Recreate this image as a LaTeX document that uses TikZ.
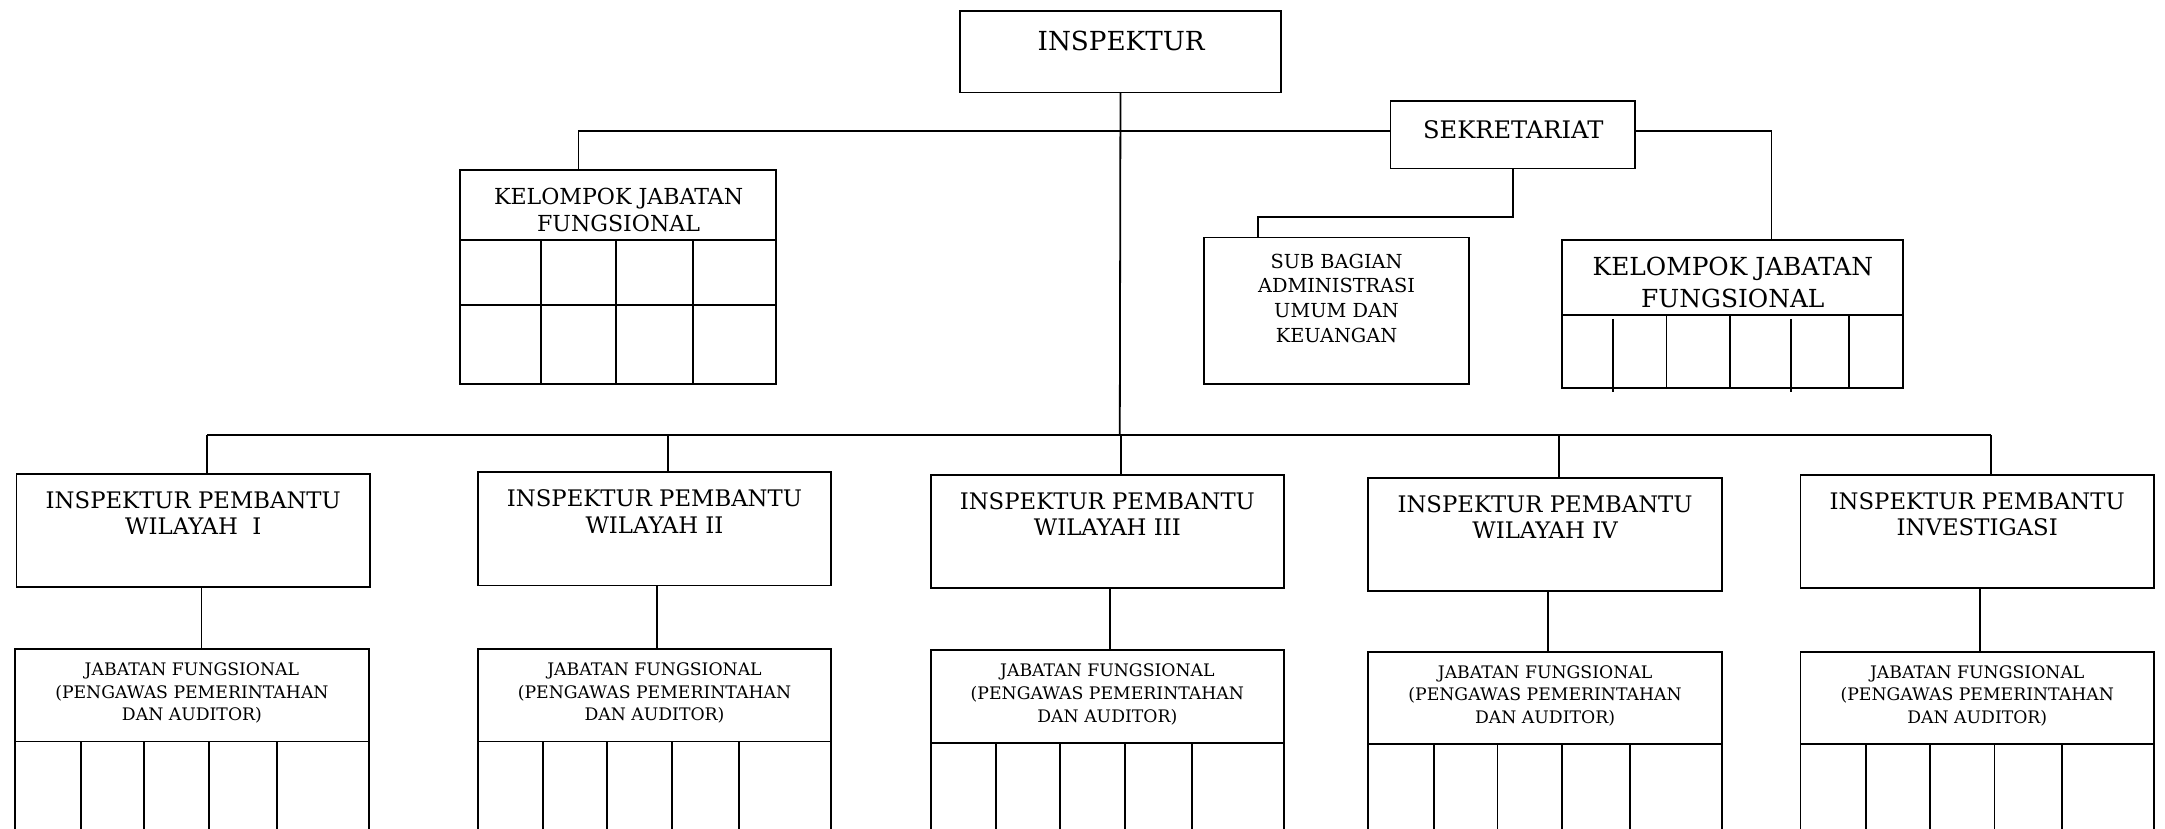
\documentclass[tikz,border=0pt]{standalone}
\usepackage{fontspec}
\setmainfont{DejaVu Serif}
\begin{document}
\begin{tikzpicture}[x=1pt,y=-1pt,line width=1.3pt,
  box/.style={draw,inner sep=0pt,outer sep=0pt,anchor=north west},
  lbl/.style={align=center,inner sep=0pt},
  fbig/.style={font=\fontsize{19}{23}\selectfont},
  fip/.style={font=\fontsize{16.5}{19}\selectfont},
  fkjf/.style={font=\fontsize{16}{19}\selectfont},
  fkjfr/.style={font=\fontsize{18}{23}\selectfont},
  fsub/.style={font=\fontsize{14}{18}\selectfont},
  fjf/.style={font=\fontsize{12.5}{16.5}\selectfont}]
\useasboundingbox (0,0) rectangle (1568,600);
\begin{scope}
\clip (0,0) rectangle (1568,600);

% top
\node[box,minimum width=233pt,minimum height=59pt] (insp) at (695,8) {};
\node[lbl,fbig] (tinsp) at (812,30) {INSPEKTUR};
\node[box,minimum width=177pt,minimum height=49pt] (sek) at (1007,73) {};
\node[lbl,fbig,font=\fontsize{17.5}{21}\selectfont] (tsek) at (1096,94) {SEKRETARIAT};

% kelompok jabatan fungsional left
\node[box,minimum width=229pt,minimum height=155pt] (kjfL) at (333,123) {};
\node[lbl,fkjf] (tkjfL) at (448,152) {KELOMPOK JABATAN\\FUNGSIONAL};
\draw (333,174) -- (562,174);
\draw (333,221) -- (562,221);
\foreach \c in {392,446,502} \draw (\c,174) -- (\c,278);

% sub bagian
\node[box,minimum width=192pt,minimum height=106pt] (sub) at (872,172) {};
\node[lbl,fsub] (tsub) at (968,216) {SUB BAGIAN\\ADMINISTRASI\\UMUM DAN\\KEUANGAN};

% kelompok jabatan fungsional right
\node[box,minimum width=247pt,minimum height=107pt] (kjfR) at (1131,174) {};
\node[lbl,fkjfr] (tkjfR) at (1255,204.5) {KELOMPOK JABATAN\\FUNGSIONAL};
\draw (1131,228) -- (1378,228);
\foreach \c in {1207,1253,1339} \draw (\c,228) -- (\c,281);
\foreach \c in {1168,1297} \draw (\c,231) -- (\c,284);

% connectors top
\coordinate (bus) at (811,315);
\draw (insp.south) -- (bus);
\draw ([xshift=-28.5pt]kjfL.north) |- ([yshift=2.5pt]sek.west);
\draw ([yshift=2.5pt]sek.east) -| ([xshift=28.5pt]kjfR.north);
\draw (sek.south) -- ++(0,35) -| ([xshift=-57pt]sub.north);

% inspektur pembantu
\foreach \n/\x/\y/\t in {1/12/343/{WILAYAH\ \ I},2/346/342/{WILAYAH II},3/674/344/{WILAYAH III},4/991/346/{WILAYAH IV},5/1304/344/{INVESTIGASI}}{
  \node[box,minimum width=256pt,minimum height=82pt] (ip\n) at (\x,\y) {};
  \node[lbl,fip] (tip\n) at ([yshift=-28.5pt]ip\n.north) {INSPEKTUR PEMBANTU\\\t};
  \coordinate (d\n) at ([xshift=10pt]ip\n.north);
  \draw (d\n) -- (d\n |- bus);
}
\draw (d1 |- bus) -- (d5 |- bus);

% jabatan fungsional
\foreach \n/\x/\y/\s in {1/11/470/6,2/346/470/2,3/674/471/2,4/991/472/2,5/1304/472/2}{
  \node[box,minimum width=256pt,minimum height=67pt] (jf\n) at (\x,\y) {};
  \node[lbl,fjf] (tjf\n) at ([yshift=-32pt]jf\n.north) {JABATAN FUNGSIONAL\\(PENGAWAS PEMERINTAHAN\\DAN AUDITOR)};
  \draw ([xshift=\s pt]ip\n.south) -- ([xshift=\s pt]ip\n.south |- jf\n.north);
  \draw (jf\n.south west) -- ++(0,80);
  \draw (jf\n.south east) -- ++(0,80);
  \foreach \o in {47.5,93.5,140.5,189.5} \draw ([xshift=\o pt]jf\n.south west) -- ++(0,80);
}
\end{scope}
\end{tikzpicture}
\end{document}
